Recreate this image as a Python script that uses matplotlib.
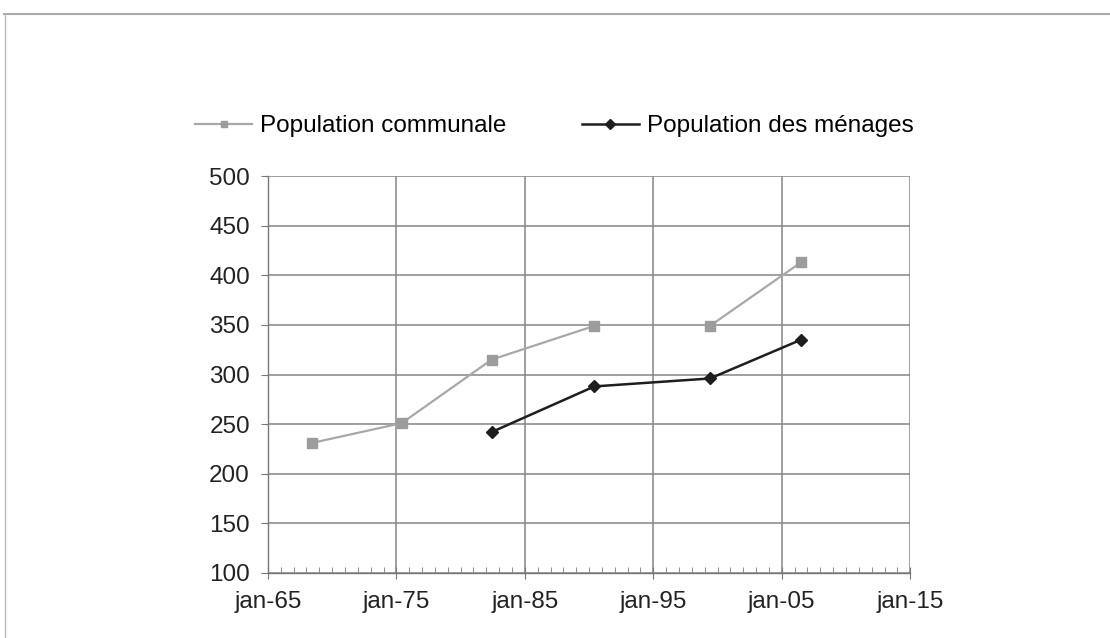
import datetime as dt
import matplotlib
matplotlib.use('Agg')
import matplotlib.pyplot as plt
import matplotlib.dates as mdates
from matplotlib.ticker import FixedLocator, FuncFormatter

plt.rcParams['font.family'] = ['Liberation Sans', 'DejaVu Sans']

# données (recensements)
dates_communale = [dt.date(1968, 6, 1), dt.date(1975, 6, 1), dt.date(1982, 6, 1),
                   dt.date(1990, 6, 1), dt.date(1999, 6, 1), dt.date(2006, 7, 1)]
pop_communale = [231, 251, 315, 349, 349, 413]
dates_menages = [dt.date(1982, 6, 1), dt.date(1990, 6, 1), dt.date(1999, 6, 1),
                 dt.date(2006, 7, 1)]
pop_menages = [242, 288, 296, 335]
tick_years = [1965, 1975, 1985, 1995, 2005, 2015]

fig = plt.figure(figsize=(11.1, 6.38), dpi=100)
ax = fig.add_axes([0.2414, 0.1019, 0.5786, 0.6222])

gris = '#9c9c9c'
noir = '#1e1e1e'

# la série communale est interrompue entre 1990 et 1999
l1, = ax.plot(dates_communale[:4], pop_communale[:4], color='#a8a8a8', lw=1.6,
              marker='s', ms=6.5, mfc=gris, mec=gris, label='Population communale')
ax.plot(dates_communale[4:], pop_communale[4:], color='#a8a8a8', lw=1.6,
        marker='s', ms=6.5, mfc=gris, mec=gris)
l2, = ax.plot(dates_menages, pop_menages, color=noir, lw=1.8,
              marker='D', ms=6.5, mfc=noir, mec=noir, label='Population des ménages')

ax.set_xlim(mdates.date2num(dt.date(1965, 1, 1)), mdates.date2num(dt.date(2015, 1, 1)))
ax.set_ylim(100, 500)
ax.set_yticks(range(100, 501, 50))

ax.xaxis.set_major_locator(FixedLocator([mdates.date2num(dt.date(y, 1, 1)) for y in tick_years]))
ax.xaxis.set_minor_locator(FixedLocator([mdates.date2num(dt.date(y, 1, 1)) for y in range(1965, 2016)]))
ax.xaxis.set_major_formatter(FuncFormatter(
    lambda v, pos: 'jan-%02d' % (mdates.num2date(v).year % 100)))

ax.grid(True, which='major', color='#858585', lw=1.1)
ax.set_axisbelow(True)
for s in ['top', 'right']:
    ax.spines[s].set_visible(False)
for s in ['left', 'bottom']:
    ax.spines[s].set_color('#777777')
    ax.spines[s].set_linewidth(1.0)

ax.tick_params(axis='both', labelsize=17.5, colors='#222222')
ax.tick_params(axis='x', which='major', direction='inout', length=8, color='#777777', pad=9)
ax.tick_params(axis='x', which='minor', direction='in', length=4, color='#777777')
ax.tick_params(axis='y', which='major', direction='out', length=5, color='#777777', pad=8)

# petits marqueurs dans la légende
fig.legend(handles=[l1, l2], loc='center left', bbox_to_anchor=(0.156, 0.8025),
           ncol=2, frameon=False, fontsize=17.5, handlelength=2.35, columnspacing=3.1,
           handletextpad=0.33, markerscale=0.75)

# cadre extérieur (haut et gauche)
fig.add_artist(plt.Line2D([0.004, 1.0], [0.978, 0.978], color='#aaaaaa', lw=1.5,
                          transform=fig.transFigure))
fig.add_artist(plt.Line2D([0.0045, 0.0045], [0.0, 0.978], color='#bbbbbb', lw=1.0,
                          transform=fig.transFigure))

fig.savefig('out.png', dpi=100)
